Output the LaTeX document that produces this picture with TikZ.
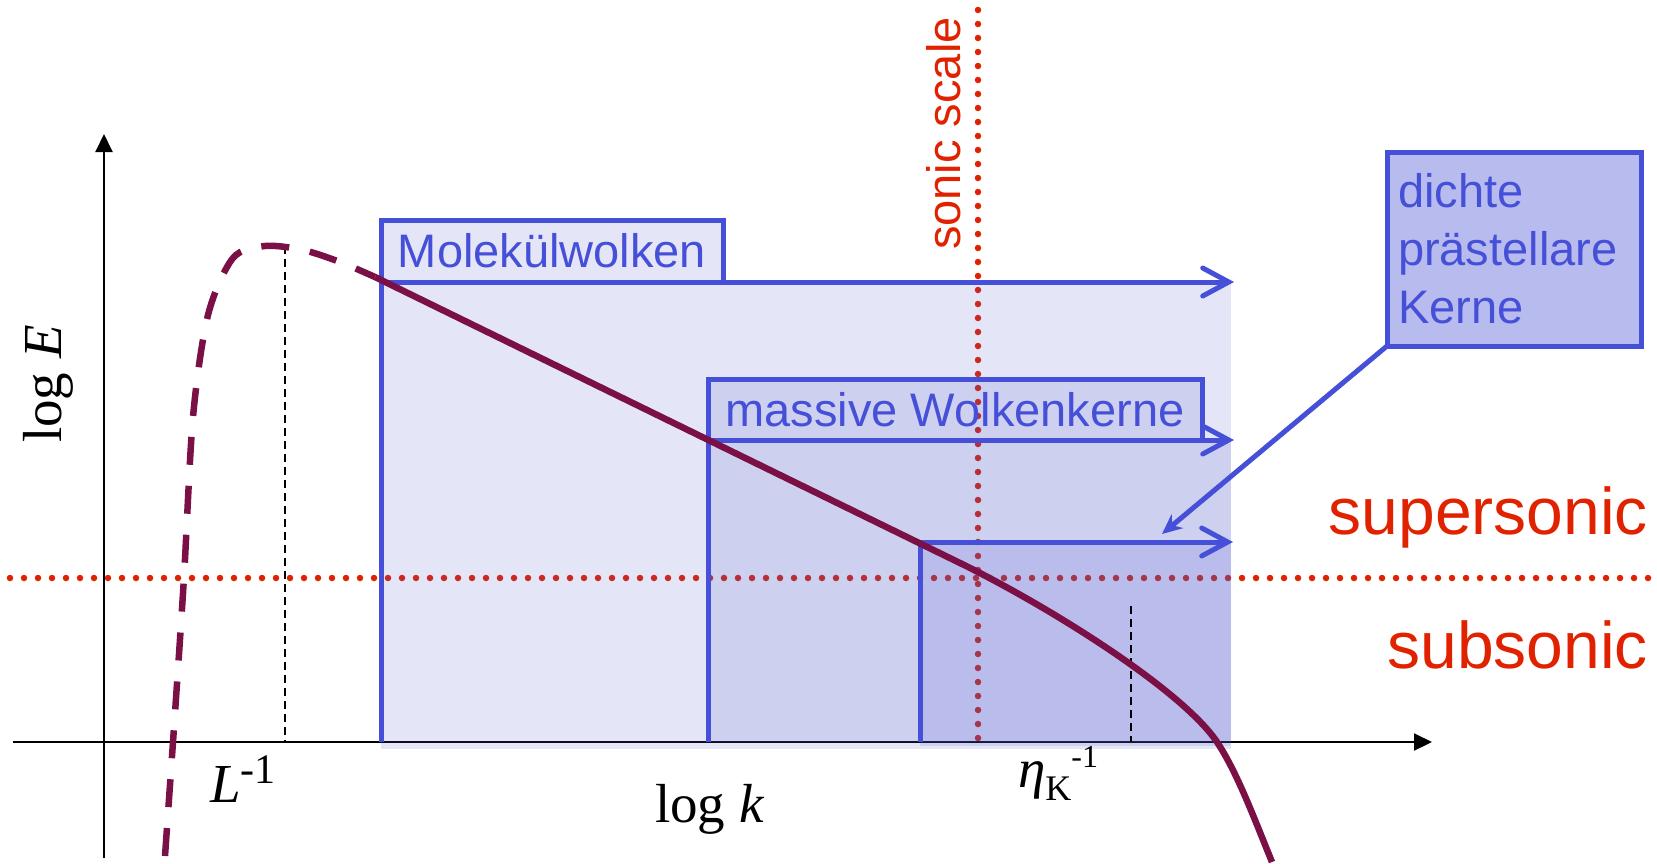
\documentclass[tikz,border=0pt]{standalone}
\usepackage{fontspec}
\setmainfont{Liberation Sans}
\newfontfamily\tnr{Liberation Serif}
\usetikzlibrary{arrows.meta}
\definecolor{bl}{RGB}{69,79,216}
\definecolor{lav}{RGB}{75,82,202}
\definecolor{dk}{RGB}{183,187,237}
\definecolor{rd}{RGB}{224,34,0}
\definecolor{pu}{RGB}{122,16,70}
\begin{document}
\begin{tikzpicture}[x=1pt,y=-1pt,
  dots/.style={rd, line width=6.5pt, line cap=round, dash pattern=on 0pt off 14pt},
  axis/.style={black, line width=2pt, -{Triangle[length=18pt,width=17pt]}},
  guide/.style={black, line width=1.8pt, dash pattern=on 8pt off 5pt},
  region/.style={fill=lav, fill opacity=0.15},
  bline/.style={bl, line width=5pt},
  barrow/.style={bline, -{Straight Barb[length=26pt,width=28pt,line cap=round]}},
  lbl/.style={draw=bl, line width=5pt, fill=lav, fill opacity=0.15, text opacity=1, text=bl, inner sep=0pt, outer sep=0pt, font=\fontsize{47}{56}\selectfont},
  curve/.style={pu, line width=6.5pt},
  mlab/.style={inner sep=0pt, font=\tnr\fontsize{55}{60}\selectfont},
  rlab/.style={text=rd, inner sep=0pt},
]
\useasboundingbox (0,0) rectangle (1657,863);

% sonic lines
\coordinate (hl) at (10,578); \coordinate (hr) at (1650,578);
\draw[dots] (hl) -- (hr);
\coordinate (vt) at (978,10); \coordinate (vb) at (978,744);
\draw[dots] (vt) -- (vb);

% axes
\coordinate (yb) at (104,858); \coordinate (yt) at (104,134);
\draw[axis] (yb) -- (yt);
\coordinate (xl) at (13,742); \coordinate (xr) at (1432,742);
\draw[axis] (xl) -- (xr);

% shaded regions and label boxes
\fill[region] (381,282) rectangle (1231,749);
\node[lbl, anchor=north west, minimum width=342pt, minimum height=62pt] (mol) at (381,220) {Molekülwolken};
\fill[region] (708,440) rectangle (1231,742);
\node[lbl, anchor=north west, minimum width=494pt, minimum height=61pt] (mas) at (708,379) {massive Wolkenkerne};
\fill[region] (920,542) rectangle (1231,746);

% blue outlines and arrows
\coordinate (m0) at (381,742); \coordinate (m1) at (1234,282);
\draw[bline] (m0) -- (mol.south west);
\draw[barrow] (mol.south east) -- (m1);
\coordinate (w0) at (708,742); \coordinate (w1) at (1234,440);
\draw[bline] (w0) -- (mas.south west);
\draw[barrow] (mas.south east) -- (w1);
\coordinate (d0) at (920,742); \coordinate (d1) at (920,542); \coordinate (d2) at (1233,542);
\draw[barrow] (d0) -- (d1) -- (d2);

\node[draw=bl, line width=5pt, fill=dk, text=bl, anchor=north west, text width=232pt, inner xsep=11pt, inner ysep=0pt, outer sep=0pt, minimum height=194pt, align=left, font=\fontsize{47}{58}\selectfont] (dpk) at (1387,152) {dichte\\prästellare\\Kerne};
\coordinate (dt) at (1162,534);
\draw[bline, -{Stealth[length=20pt,width=18pt]}] (dpk.south west) -- (dt);

% guides
\coordinate (g1t) at (285,246); \coordinate (g1b) at (285,742);
\draw[guide] (g1t) -- (g1b);
\coordinate (g2t) at (1131,606); \coordinate (g2b) at (1131,742);
\draw[guide] (g2t) -- (g2b);

% spectrum
\draw[curve, dash pattern=on 28pt off 21pt] plot[smooth] coordinates {(165,856) (175,713) (184,577) (193,417) (208,315) (233,258) (265,246) (303,250) (340,262) (375,277)};
\draw[curve] (375,277) -- (960,563) .. controls (1050,607) and (1182,690) .. (1217,742) .. controls (1237,772) and (1254,818) .. (1272,862);

% texts
\node[rlab, font=\fontsize{66}{70}\selectfont, anchor=base east] (sup) at (1648,534) {supersonic};
\node[rlab, font=\fontsize{66}{70}\selectfont, anchor=base east] (sub) at (1648,668) {subsonic};
\node[rlab, font=\fontsize{47}{56}\selectfont, rotate=90, anchor=base west] (son) at (960,250) {sonic scale};

\node[mlab, rotate=90, anchor=base west] (le) at (61,443) {log \textit{E}};
\node[mlab, anchor=base west] (lk) at (655,822) {log \textit{k}};
\node[mlab, anchor=base west] (li) at (210,802) {\textit{L}\raisebox{19pt}{\fontsize{42}{42}\selectfont -1}};
\node[mlab, anchor=base west] (eta) at (1018,787) {\textit{η}\raisebox{-13pt}{\fontsize{36}{36}\selectfont K}\raisebox{20pt}{\fontsize{32}{32}\selectfont -1}};
\end{tikzpicture}
\end{document}
